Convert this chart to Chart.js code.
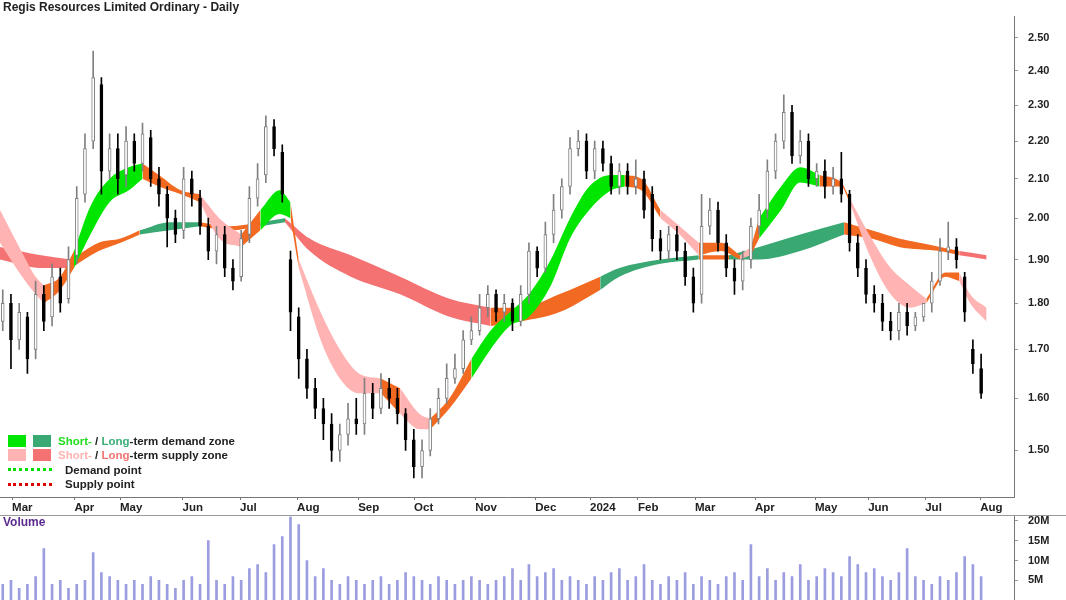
<!DOCTYPE html>
<html><head><meta charset="utf-8">
<script src="https://cdn.jsdelivr.net/npm/chart.js@4/dist/chart.umd.min.js"></script>
<style>
body{margin:0;width:1066px;height:600px;background:#fff;font-family:Arial,"Liberation Sans",sans-serif;position:relative;overflow:hidden}
#w1{position:absolute;left:0;top:0;width:1066px;height:515px}
#w2{position:absolute;left:0;top:500px;width:1066px;height:117px}
#sep{position:absolute;left:0;top:515px;width:1066px;height:1px;background:#999}
#title{position:absolute;left:3px;top:0px;font:bold 12px Arial,"Liberation Sans";color:#222}
#vol{position:absolute;left:3px;top:515px;font:bold 12px Arial,"Liberation Sans";color:#5b2c8f}
#legend{position:absolute;left:8px;top:434px;font:bold 11.5px Arial,"Liberation Sans";color:#222;line-height:14.3px}
.row{display:flex;align-items:center;height:14.3px}
.sw{width:18px;height:12px;margin-right:7px}
.dot{width:44px;height:0;border-top:3px dotted;margin-right:13px}
</style></head><body>
<div id="w1"><canvas id="c1"></canvas></div>
<div id="w2"><canvas id="c2"></canvas></div>
<div id="sep"></div>
<div id="title">Regis Resources Limited Ordinary - Daily</div>
<div id="vol">Volume</div>
<div id="legend">
<div class="row"><div class="sw" style="background:#00e600"></div><div class="sw" style="background:#3aa872"></div><span style="color:#22dd22">Short-</span>&nbsp;/&nbsp;<span style="color:#3aaf78">Long</span>-term demand zone</div>
<div class="row"><div class="sw" style="background:#ffb3b3"></div><div class="sw" style="background:#f47272"></div><span style="color:#ffb3b3">Short-</span>&nbsp;/&nbsp;<span style="color:#f47272">Long</span>-term supply zone</div>
<div class="row"><div class="dot" style="border-color:#00dd00"></div>Demand point</div>
<div class="row"><div class="dot" style="border-color:#dd0000"></div>Supply point</div>
</div>
<script>
const monthLabels=["Mar","Apr","May","Jun","Jul","Aug","Sep","Oct","Nov","Dec","2024","Feb","Mar","Apr","May","Jun","Jul","Aug"];
const monthDays=[4.4,27.2,43.8,66.6,87.6,108.4,130.7,151.1,173.4,195.3,215.3,232.8,253.6,275.5,297.4,316.8,337.6,357.7];
const priceTicks=[1.5,1.6,1.7,1.8,1.9,2.0,2.1,2.2,2.3,2.4,2.5];
const volTicks=[5e6,10e6,15e6,20e6];
const opens=[1.76,1.80,1.72,1.77,1.70,1.82,1.77,1.86,1.81,1.91,2.06,2.20,2.36,2.12,2.18,2.11,2.20,2.14,2.21,2.10,2.06,2.00,1.97,2.10,2.05,1.98,1.92,1.96,1.88,1.86,1.96,2.05,2.11,2.24,2.17,1.90,1.77,1.68,1.62,1.58,1.55,1.50,1.53,1.56,1.55,1.61,1.58,1.62,1.60,1.57,1.52,1.47,1.50,1.56,1.60,1.64,1.66,1.72,1.74,1.79,1.82,1.78,1.80,1.76,1.82,1.92,1.88,1.96,2.02,2.08,2.18,2.20,2.12,2.18,2.14,2.08,2.12,2.08,2.10,2.06,1.95,1.92,1.96,1.92,1.86,1.82,1.98,2.02,1.94,1.88,1.85,1.90,1.98,2.02,2.12,2.20,2.28,2.16,2.20,2.10,2.12,2.08,2.10,2.06,1.94,1.88,1.82,1.80,1.76,1.74,1.78,1.75,1.77,1.80,1.85,1.92,1.93,1.86,1.70,1.66];
const highs=[1.83,1.82,1.80,1.78,1.85,1.84,1.89,1.88,1.93,2.08,2.22,2.46,2.38,2.22,2.22,2.24,2.22,2.25,2.23,2.13,2.08,2.02,2.13,2.12,2.07,2.00,1.98,1.98,1.90,1.97,2.08,2.14,2.27,2.26,2.19,1.92,1.79,1.70,1.64,1.60,1.57,1.55,1.59,1.60,1.64,1.63,1.65,1.64,1.62,1.58,1.54,1.52,1.58,1.62,1.67,1.69,1.74,1.77,1.82,1.84,1.83,1.82,1.81,1.84,1.94,1.93,1.99,2.06,2.10,2.21,2.23,2.22,2.20,2.20,2.16,2.14,2.14,2.15,2.12,2.08,1.97,1.98,1.98,1.94,1.88,2.06,2.05,2.04,1.96,1.90,1.92,2.00,2.06,2.15,2.22,2.33,2.30,2.23,2.22,2.14,2.15,2.13,2.17,2.07,1.96,1.90,1.84,1.82,1.78,1.80,1.80,1.78,1.80,1.87,1.95,1.99,1.95,1.87,1.72,1.69];
const lows=[1.74,1.66,1.70,1.65,1.68,1.74,1.75,1.78,1.80,1.89,2.04,2.18,2.06,2.10,2.06,2.08,2.12,2.12,2.08,2.03,1.93,1.94,1.95,2.03,1.96,1.90,1.89,1.86,1.83,1.85,1.94,2.03,2.09,2.16,2.04,1.74,1.64,1.60,1.56,1.52,1.48,1.48,1.51,1.53,1.53,1.56,1.57,1.58,1.55,1.50,1.45,1.45,1.49,1.55,1.59,1.63,1.65,1.71,1.73,1.77,1.76,1.76,1.74,1.75,1.80,1.86,1.87,1.94,2.00,2.06,2.16,2.10,2.10,2.12,2.06,2.06,2.06,2.06,2.00,1.92,1.90,1.90,1.90,1.84,1.78,1.80,1.96,1.92,1.86,1.82,1.83,1.88,1.96,2.00,2.10,2.18,2.14,2.14,2.08,2.08,2.05,2.06,2.04,1.92,1.86,1.80,1.78,1.74,1.72,1.72,1.73,1.74,1.76,1.78,1.84,1.90,1.88,1.76,1.65,1.60];
const closes=[1.80,1.72,1.78,1.68,1.82,1.76,1.86,1.80,1.90,2.05,2.18,2.38,2.12,2.18,2.10,2.20,2.14,2.22,2.10,2.06,2.00,1.96,2.10,2.06,1.98,1.92,1.96,1.88,1.85,1.95,2.05,2.10,2.24,2.18,2.06,1.78,1.68,1.62,1.58,1.55,1.50,1.53,1.56,1.55,1.61,1.58,1.62,1.60,1.57,1.52,1.47,1.50,1.56,1.60,1.64,1.66,1.72,1.74,1.79,1.82,1.78,1.80,1.76,1.82,1.92,1.88,1.96,2.02,2.08,2.18,2.20,2.12,2.18,2.14,2.08,2.12,2.08,2.10,2.02,1.95,1.92,1.96,1.92,1.86,1.80,1.98,2.02,1.94,1.88,1.85,1.90,1.98,2.02,2.12,2.20,2.28,2.16,2.20,2.10,2.12,2.08,2.10,2.06,1.94,1.88,1.82,1.80,1.76,1.74,1.78,1.75,1.77,1.80,1.85,1.92,1.93,1.90,1.78,1.67,1.61];
const volumesM=[4,5,3,4,6,13,4,5,3,4,5,12,7,6,5,4,5,4,6,5,4,3,5,6,4,15,5,4,6,5,8,9,7,14,16,21,19,10,6,8,5,4,6,5,4,5,6,4,5,7,6,5,4,6,5,4,5,6,5,4,5,6,8,5,9,6,7,8,5,6,5,4,6,5,7,8,5,6,9,5,4,6,5,7,4,6,5,4,6,7,5,14,6,8,5,7,6,9,5,6,8,7,6,11,9,7,8,6,5,7,13,6,5,4,6,5,7,11,9,6];
const sDays=[0,7,13,16,22,27,33,40,47,52,58,66,73,80,88,95,102,106,109,117,124,131,139,146,153,157,164,172,179,186,193,201,208,215,223,228,234,241,248,255,263,270,274,277,285,292,299,307,310,318,325,332,338,345,350,354,360];
const sTop=[2.02,1.93,1.86,1.84,1.86,1.92,2.03,2.10,2.13,2.14,2.11,2.07,2.06,2.00,1.96,2.02,2.07,2.04,1.90,1.78,1.70,1.65,1.64,1.62,1.57,1.56,1.60,1.68,1.74,1.78,1.82,1.90,2.00,2.08,2.11,2.11,2.10,2.02,1.98,1.94,1.94,1.91,1.93,2.00,2.08,2.13,2.11,2.09,2.05,1.95,1.88,1.84,1.81,1.87,1.87,1.82,1.79];
const sBot=[1.94,1.87,1.82,1.80,1.83,1.88,1.96,2.04,2.07,2.10,2.08,2.06,2.04,1.95,1.93,1.97,2.01,2.00,1.88,1.72,1.64,1.61,1.61,1.57,1.54,1.54,1.58,1.64,1.70,1.75,1.77,1.84,1.95,2.02,2.07,2.08,2.07,2.00,1.96,1.91,1.92,1.90,1.91,1.95,2.02,2.09,2.08,2.08,2.04,1.90,1.82,1.79,1.80,1.86,1.85,1.80,1.76];
const sPhase=["sp","sp","sp","o","o","sd","sd","sd","sd","o","o","o","sp","sp","o","sd","sd","o","sp","sp","sp","sp","o","sp","sp","o","o","sd","sd","sd","sd","sd","sd","sd","sd","o","o","sp","sp","o","o","sp","o","sd","sd","sd","o","o","sp","sp","sp","sp","o","o","sp","sp","sp"];
const lDays=[0,15,26,36,44,51,62,73,84,95,104,113,128,146,164,179,190,204,219,226,241,255,266,277,292,308,318,328,343,350,360];
const lTop=[1.93,1.91,1.90,1.94,1.95,1.97,1.99,1.99,1.98,1.99,2.00,1.95,1.91,1.86,1.81,1.79,1.79,1.82,1.86,1.88,1.90,1.91,1.91,1.93,1.96,1.99,1.97,1.95,1.93,1.92,1.91];
const lBot=[1.90,1.88,1.88,1.92,1.94,1.96,1.97,1.98,1.97,1.98,1.99,1.92,1.86,1.82,1.77,1.75,1.76,1.78,1.83,1.86,1.89,1.90,1.90,1.90,1.92,1.96,1.95,1.93,1.92,1.91,1.90];
const lPhase=["lr","lr","o","o","o","ld","ld","o","o","ld","lr","lr","lr","lr","lr","o","o","o","ld","ld","ld","o","ld","ld","ld","o","o","o","o","lr","lr"];
const colors={sp:"#ffb3b3",sd:"#00e600",o:"#f26a22",ld:"#3aa872",lr:"#f47272"};

function bandSets(days,top,bot,ph,order){
  const out=[];let s=0;
  for(let k=1;k<=days.length;k++){
    if(k===days.length||ph[k]!==ph[s]){
      const to=Math.min(k,days.length-1);
      if(to>s){
        const xs=days.slice(s,to+1);
        const base={type:'line',pointRadius:0,borderWidth:0,cubicInterpolationMode:'monotone',order:order,borderColor:'rgba(0,0,0,0)'};
        out.push(Object.assign({},base,{data:xs.map((x,j)=>({x:x,y:top[s+j]})),fill:false}));
        out.push(Object.assign({},base,{data:xs.map((x,j)=>({x:x,y:bot[s+j]})),fill:'-1',backgroundColor:colors[ph[s]]}));
      }
      s=k;
    }
  }
  return out;
}
const candleDays=closes.map((c,i)=>1+3*i);
const up=closes.map((c,i)=>c>=opens[i]);
const datasets=[];
datasets.push({type:'bar',order:0,grouped:false,barThickness:3,borderSkipped:false,borderWidth:1,
  data:candleDays.map((d,i)=>({x:d,y:[opens[i],closes[i]]})),
  backgroundColor:up.map(u=>u?'#ffffff':'#000000'),borderColor:up.map(u=>u?'#808080':'#000000')});
datasets.push({type:'bar',order:0,grouped:false,barThickness:1,
  data:candleDays.map((d,i)=>({x:d,y:[lows[i],highs[i]]})),
  backgroundColor:up.map(u=>u?'#808080':'#000000')});
const all=datasets.concat(bandSets(sDays,sTop,sBot,sPhase,1),bandSets(lDays,lTop,lBot,lPhase,2));

new Chart(document.getElementById('c1'),{
  data:{datasets:all},
  options:{responsive:true,maintainAspectRatio:false,animation:false,events:[],
    layout:{padding:0},
    plugins:{legend:{display:false},tooltip:{enabled:false},filler:{propagate:false}},
    scales:{
      x:{type:'linear',min:0,max:370,offset:false,
        afterBuildTicks:s=>{s.ticks=monthDays.map(v=>({value:v}));},
        afterFit:s=>{s.height=18;},
        grid:{display:true,drawOnChartArea:false,offset:false,tickLength:3,color:'#777'},
        border:{display:true,color:'#777'},
        ticks:{autoSkip:false,maxRotation:0,align:'start',padding:1,color:'#222',font:{family:'Arial',weight:'bold',size:11.5},
          callback:(v,i)=>monthLabels[i]}},
      y:{type:'logarithmic',position:'right',min:1.416,max:2.567,
        afterBuildTicks:s=>{s.ticks=priceTicks.map(v=>({value:v}));},
        afterFit:s=>{s.width=52;},
        grid:{display:true,drawOnChartArea:false,tickLength:4,color:'#999'},
        border:{display:true,color:'#777'},
        ticks:{padding:10,color:'#222',font:{family:'Arial',weight:'bold',size:11},callback:v=>Number(v).toFixed(2)}}
    }}
});

new Chart(document.getElementById('c2'),{
  type:'bar',
  data:{datasets:[{data:candleDays.map((d,i)=>({x:d,y:volumesM[i]*1e6})),backgroundColor:'#9c9ce0',barThickness:2}]},
  options:{responsive:true,maintainAspectRatio:false,animation:false,events:[],
    layout:{padding:0},
    plugins:{legend:{display:false},tooltip:{enabled:false}},
    scales:{
      x:{type:'linear',min:0,max:370,offset:false,display:false},
      y:{position:'right',min:0,max:21e6,
        afterBuildTicks:s=>{s.ticks=volTicks.map(v=>({value:v}));},
        afterFit:s=>{s.width=52;},
        grid:{display:true,drawOnChartArea:false,tickLength:4,color:'#999'},
        border:{display:true,color:'#777'},
        ticks:{padding:10,color:'#222',font:{family:'Arial',weight:'bold',size:11},callback:v=>(v/1e6)+'M'}}
    }}
});
</script>
</body></html>
